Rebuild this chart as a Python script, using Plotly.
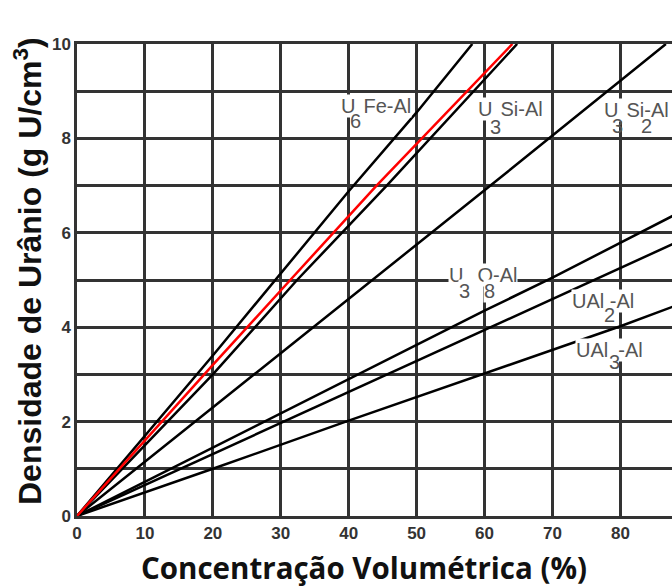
import plotly.graph_objects as go

# ---------------- data ----------------
x_ticks = [0, 10, 20, 30, 40, 50, 60, 70, 80]
x_tick_labels = ["0", "10", "20", "30", "40", "50", "60", "70", "80"]
y_ticks = [0, 2, 4, 6, 8, 10]
y_tick_labels = ["0", "2", "4", "6", "8", "10"]

u6fe_x = [0, 20, 40, 50, 58.2]
u6fe_y = [0, 3.4, 6.88, 8.55, 10.0]

u8mo_x = [0, 10, 20, 31.4, 44.1, 64.1]
u8mo_y = [0, 1.6, 3.2, 5.0, 7.0, 10.0]

u3si_x = [0, 20, 32.4, 45.6, 64.8]
u3si_y = [0, 3.0, 5.0, 7.0, 10.0]

u3si2_x = [0, 20, 40, 60, 86.7]
u3si2_y = [0, 2.3, 4.6, 6.9, 10.0]

u3o8_x = [0, 20, 40, 60, 70, 88]
u3o8_y = [0, 1.45, 2.9, 4.35, 5.05, 6.38]

ual2_x = [0, 20, 40, 60, 70, 88]
ual2_y = [0, 1.31, 2.63, 3.94, 4.6, 5.78]

ual3_x = [0, 20, 40, 60, 80, 88]
ual3_y = [0, 1.0, 2.02, 3.02, 4.02, 4.45]

# ---------------- layout geometry ----------------
W, H = 672, 588
ML, MR, MT, MB = 77, 0, 44, 72
XMAX, YMAX = 87.6, 10
PW, PH = W - ML - MR, H - MT - MB

def px_x(px):
    return (px - ML) / PW * XMAX

def px_y(py):
    return (H - MB - py) / PH * YMAX

GRID = "#333333"
LBL = "#555555"
FONT = "Arial, Liberation Sans, sans-serif"

fig = go.Figure()

black_series = [
    (u6fe_x, u6fe_y, "U6Fe-Al"),
    (u3si_x, u3si_y, "U3Si-Al"),
    (u3si2_x, u3si2_y, "U3Si2-Al"),
    (u3o8_x, u3o8_y, "U3O8-Al"),
    (ual2_x, ual2_y, "UAl2-Al"),
    (ual3_x, ual3_y, "UAl3-Al"),
]
for xs, ys, name in black_series:
    fig.add_trace(go.Scatter(x=xs, y=ys, mode="lines", name=name,
                             line=dict(color="black", width=2.5),
                             showlegend=False, hoverinfo="skip"))
fig.add_trace(go.Scatter(x=u8mo_x, y=u8mo_y, mode="lines", name="U8Mo-Al",
                         line=dict(color="#ff0000", width=2.5),
                         showlegend=False, hoverinfo="skip"))

# ---------------- curve labels ----------------
# (text, left pixel of first glyph, vertical centre pixel, white background)
pieces = [
    ("U\u2009\u2009Fe-Al", 342, 105.5, True),
    ("6", 351, 121, False),
    ("U\u2009\u2009Si-Al", 479, 108.5, True),
    ("3", 491, 126.5, False),
    ("U\u2009\u2009Si-Al", 605, 109.5, True),
    ("3", 613, 125.5, False),
    ("2", 642, 125.5, False),
    ("U\u2002\u2009O-Al", 450, 275, True),
    ("3", 460, 290.5, True),
    ("8", 485, 290.5, True),
    ("UAl -Al", 573, 300.5, True),
    ("2", 605, 315, False),
    ("UAl\u2002-Al", 577, 350, True),
    ("3", 610, 362, False),
]
for text, left, cy, bg in pieces:
    fig.add_annotation(x=px_x(left - 2.5), y=px_y(cy), text=text,
                       xanchor="left", yanchor="middle", showarrow=False,
                       font=dict(family=FONT, size=20, color=LBL),
                       bgcolor="white" if bg else "rgba(0,0,0,0)",
                       borderpad=0)

fig.add_annotation(x=px_x(521), y=px_y(20), text="U8Mo-Al",
                   xanchor="center", yanchor="middle", showarrow=False,
                   font=dict(family=FONT, size=20, color="#ff3030"))

# ---------------- axis titles ----------------
fig.add_annotation(xref="paper", yref="paper",
                   x=(364 - ML) / PW, y=(H - MB - 567) / PH,
                   text="<b>Concentração Volumétrica (%)</b>",
                   xanchor="center", yanchor="middle", showarrow=False,
                   font=dict(family="Open Sans, sans-serif", size=29.5, color="#111111"))
fig.add_annotation(xref="paper", yref="paper",
                   x=(28 - ML) / PW, y=(H - MB - 271) / PH,
                   text="<b>Densidade de Urânio (g U/cm<sup>3</sup>)</b>",
                   textangle=-90, xanchor="center", yanchor="middle", showarrow=False,
                   font=dict(family=FONT, size=32, color="#111111"))

grid_style = dict(gridcolor=GRID, gridwidth=2.5)
axis_common = dict(showgrid=True, showline=True, linecolor=GRID, linewidth=2.5,
                   zeroline=False, ticks="", fixedrange=True,
                   tickfont=dict(family=FONT, size=17, color="#333333", weight="bold"),
                   **grid_style)

fig.update_layout(
    width=W, height=H,
    margin=dict(l=ML, r=MR, t=MT, b=MB, pad=0),
    paper_bgcolor="white", plot_bgcolor="white",
    xaxis=dict(range=[0, XMAX], tickmode="array", tickvals=x_ticks,
               ticktext=x_tick_labels, mirror=True, **axis_common),
    yaxis=dict(range=[0, YMAX], tickmode="array", tickvals=y_ticks,
               ticktext=y_tick_labels,
               minor=dict(dtick=1, showgrid=True, ticks="", **grid_style),
               **axis_common),
    showlegend=False,
)

fig.write_html("out.html", config={"displayModeBar": False})
